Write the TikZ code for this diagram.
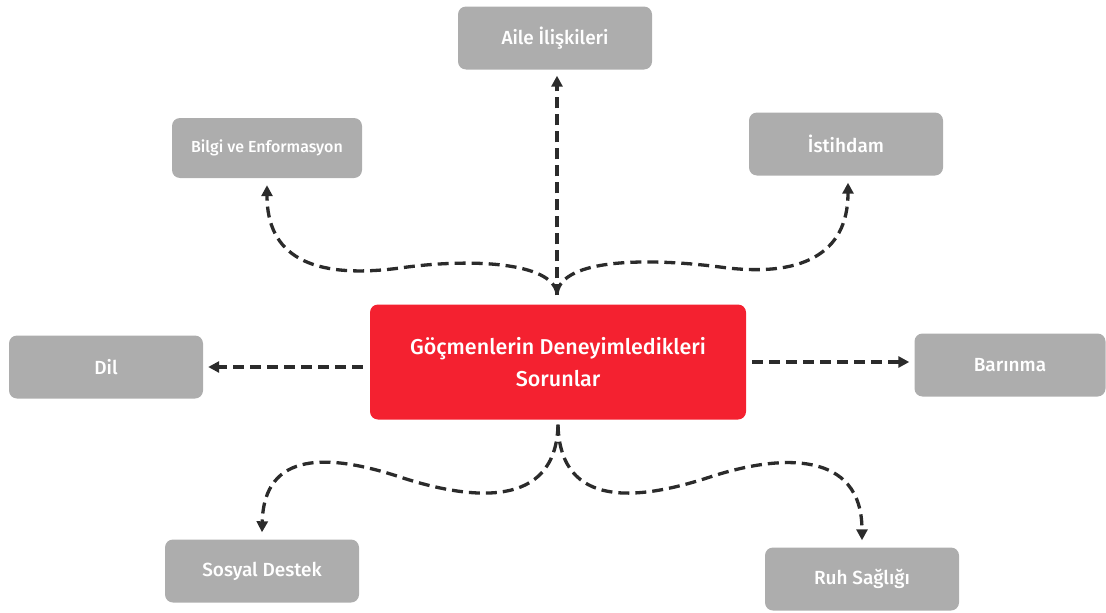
\documentclass[tikz,border=0pt]{standalone}
\usepackage{fontspec}
\setmainfont{Fira Sans}[UprightFont={* Medium}]
\usepackage{xcolor}
\usetikzlibrary{arrows.meta,positioning,calc}
\definecolor{boxgray}{HTML}{ADADAD}
\definecolor{mainred}{HTML}{F42130}
\definecolor{linegray}{HTML}{2B2B2B}

\begin{document}
\begin{tikzpicture}[x=1pt, y=-1pt,
    topic/.style={fill=boxgray, rounded corners=8pt, minimum width=194pt, minimum height=63pt, text=white, font=\fontsize{19}{23}\selectfont},
    problem/.style={fill=mainred, rounded corners=8pt, minimum width=376pt, minimum height=115pt, text=white, align=center, font=\fontsize{21.5}{32}\selectfont},
    link/.style={linegray, line width=3.3pt, dash pattern=on 11pt off 6pt, -{Triangle[length=11pt,width=11pt]}}]
        \useasboundingbox (0,0) rectangle (1106,613);

        % Main problem
        \node[problem] (prob) at (558,362) {Göçmenlerin Deneyimledikleri\\Sorunlar};

        % Topics
        \node[topic] (aile) at (555,38) {Aile İlişkileri};
        \node[topic, minimum width=190pt, minimum height=60pt, font=\fontsize{16}{19}\selectfont] (bilgi) at (267,148) {Bilgi ve Enformasyon};
        \node[topic] (istihdam) at (846,144) {İstihdam};
        \node[topic] (dil) at (106,367) {Dil};
        \node[topic, minimum width=191pt] (barinma) at (1010,365) {Barınma};
        \node[topic] (sosyal) at (262,571) {Sosyal Destek};
        \node[topic] (ruh) at (862,579) {Ruh Sağlığı};

        % Straight links
        \draw[link, shorten <=9pt, shorten >=6pt] ([xshift=-1pt]prob.north) -- ([xshift=2pt]aile.south);
        \draw[link, shorten <=7pt, shorten >=5pt] (dil.east -| prob.west) -- (dil.east);
        \draw[link, shorten <=6pt, shorten >=5pt] (prob.east) -- (prob.east -| barinma.west);

        % Curved links
        \draw[link] ([xshift=-1pt,yshift=11pt]prob.north) .. controls (552,262) and (470,258) .. (400,268) .. controls (310,280) and (267,255) .. ([yshift=-7pt]bilgi.south);
        \draw[link] ([xshift=-1pt,yshift=11pt]prob.north) .. controls (562,258) and (650,258) .. (720,267) .. controls (800,278) and (848,255) .. ([xshift=2pt,yshift=-7pt]istihdam.south);
        \draw[link] ([yshift=-5pt]prob.south) .. controls (556,510) and (470,500) .. (400,477) .. controls (330,454) and (264,450) .. ([yshift=7pt]sosyal.north);
        \draw[link] ([yshift=-5pt]prob.south) .. controls (560,510) and (640,500) .. (710,477) .. controls (780,454) and (862,450) .. ([yshift=7pt]ruh.north);
    \end{tikzpicture}
\end{document}
